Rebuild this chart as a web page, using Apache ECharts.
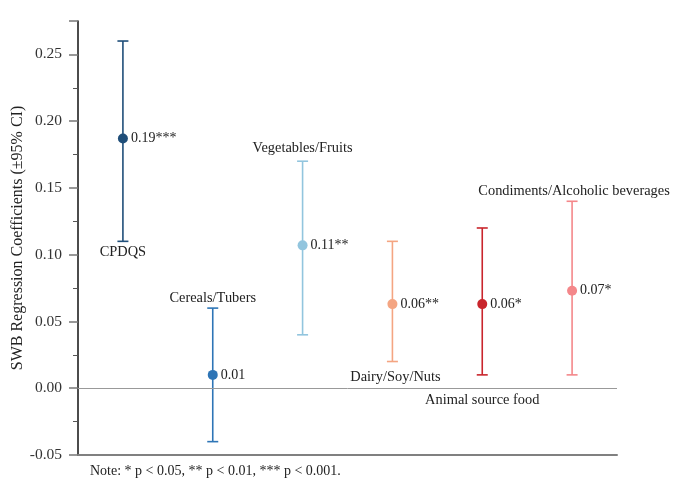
<!DOCTYPE html>
<html>
<head>
<meta charset="utf-8">
<script src="https://cdn.jsdelivr.net/npm/echarts@6/dist/echarts.min.js"></script>
<style>html,body{margin:0;padding:0;background:#fff;}#c{width:685px;height:492px;}</style>
</head>
<body>
<div id="c"></div>
<script>
const categories = ['CPDQS', 'Cereals/Tubers', 'Vegetables/Fruits', 'Dairy/Soy/Nuts', 'Animal source food', 'Condiments/Alcoholic beverages'];
const coef = [0.187, 0.010, 0.107, 0.063, 0.063, 0.073];
const ciLow = [0.11, -0.04, 0.04, 0.02, 0.01, 0.01];
const ciHigh = [0.26, 0.06, 0.17, 0.11, 0.12, 0.14];
const valueLabels = ['0.19***', '0.01', '0.11**', '0.06**', '0.06*', '0.07*'];
const namePlacement = ['below', 'above', 'above', 'below', 'zero', 'above'];
const nameShift = [[0, 0], [0, 3], [0, 0], [3, 5], [0, 0], [2, 3]];
const colors = ['#1f4e79', '#2e75b6', '#92c5de', '#f4a582', '#c9252c', '#f4878a'];
const yTicks = { min: -0.05, max: 0.275, interval: 0.05 };
const noteText = 'Note: * p < 0.05, ** p < 0.01, *** p < 0.001.';

const FONT = '"Liberation Serif", "Times New Roman", serif';
const chart = echarts.init(document.getElementById('c'), null, { renderer: 'canvas' });

const errData = categories.map((c, i) => [i, ciLow[i], ciHigh[i], coef[i]]);

const option = {
  animation: false,
  backgroundColor: '#fff',
  grid: { left: 78, right: 68, top: 21, bottom: 37, containLabel: false, outerBoundsMode: 'none' },
  xAxis: {
    type: 'category',
    data: categories,
    boundaryGap: true,
    axisLine: { onZero: false, lineStyle: { color: '#808080', width: 2 } },
    axisTick: { show: false },
    axisLabel: { show: false },
    splitLine: { show: false }
  },
  yAxis: {
    type: 'value',
    min: yTicks.min,
    max: yTicks.max,
    interval: yTicks.interval,
    name: 'SWB Regression Coefficients (±95% CI)',
    nameLocation: 'middle',
    nameGap: 52,
    nameMoveOverlap: false,
    nameTextStyle: { fontFamily: FONT, fontSize: 16, color: '#222' },
    axisLine: { show: true, lineStyle: { color: '#111', width: 1.5 } },
    axisTick: { show: true, length: 9, lineStyle: { color: '#777', width: 1.5 } },
    minorTick: { show: true, splitNumber: 2, length: 5, lineStyle: { color: '#555', width: 1 } },
    axisLabel: {
      fontFamily: FONT, fontSize: 15.5, color: '#333', margin: 16,
      showMaxLabel: false,
      formatter: v => v.toFixed(2)
    },
    splitLine: { show: false }
  },
  series: [
    {
      type: 'custom',
      data: errData,
      z: 2,
      markLine: {
        silent: true,
        symbol: 'none',
        label: { show: false },
        lineStyle: { color: '#999', width: 1, type: 'solid' },
        data: [{ yAxis: 0 }]
      },
      renderItem: function (params, api) {
        const idx = api.value(0);
        const lo = api.coord([idx, api.value(1)]);
        const hi = api.coord([idx, api.value(2)]);
        const zero = api.coord([idx, 0]);
        const col = colors[idx];
        const hw = 5.5;
        const style = { stroke: col, lineWidth: 1.6 };
        const children = [
          { type: 'line', shape: { x1: hi[0], y1: hi[1], x2: lo[0], y2: lo[1] }, style: style },
          { type: 'line', shape: { x1: hi[0] - hw, y1: hi[1], x2: hi[0] + hw, y2: hi[1] }, style: style },
          { type: 'line', shape: { x1: lo[0] - hw, y1: lo[1], x2: lo[0] + hw, y2: lo[1] }, style: style }
        ];
        const p = namePlacement[idx];
        let tx = hi[0], ty, va;
        if (p === 'above') { ty = hi[1] - 6; va = 'bottom'; }
        else if (p === 'below') { ty = lo[1] + 4; va = 'top'; }
        else { ty = zero[1] + 5; va = 'top'; }
        tx += nameShift[idx][0];
        ty += nameShift[idx][1];
        children.push({
          type: 'text',
          style: {
            text: categories[idx], x: tx, y: ty, align: 'center', verticalAlign: va,
            font: '14.4px ' + FONT, fill: '#222'
          }
        });
        return { type: 'group', children: children };
      }
    },
    {
      type: 'scatter',
      z: 3,
      symbol: 'circle',
      symbolSize: 10,
      itemStyle: { opacity: 1 },
      data: coef.map((v, i) => ({
        value: [i, v],
        itemStyle: { color: colors[i], opacity: 1 },
        label: { formatter: valueLabels[i] }
      })),
      label: {
        show: true, position: 'right', distance: 3,
        fontFamily: FONT, fontSize: 14, color: '#222', opacity: 1
      }
    }
  ],
  graphic: [
    {
      type: 'text', left: 90, top: 464,
      style: { text: noteText, font: '14px ' + FONT, fill: '#222' }
    }
  ]
};
chart.setOption(option);
</script>
</body>
</html>
